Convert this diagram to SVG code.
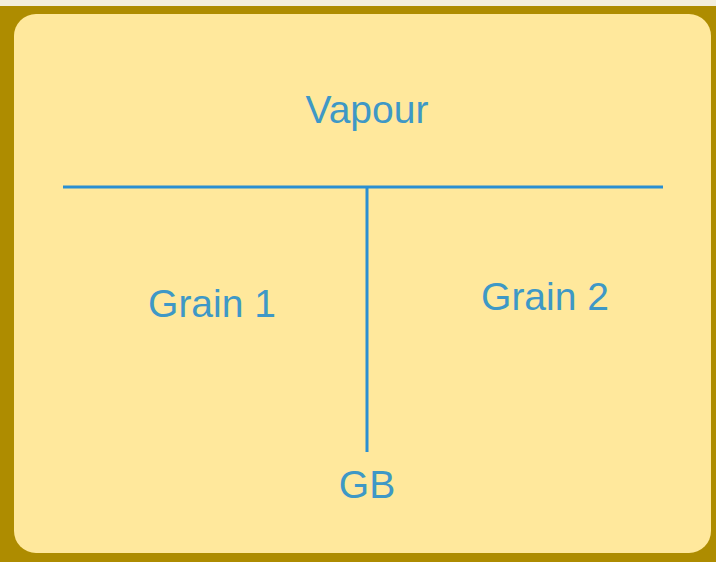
<svg xmlns="http://www.w3.org/2000/svg" width="716" height="562" viewBox="0 0 716 562">
<style>
.lbl{font-family:"Liberation Sans",Arial,sans-serif;font-size:39px;fill:#3E98C6;text-anchor:middle}
.ln{stroke:#2A8FD2;stroke-width:3;fill:none}
</style>
<rect x="0" y="0" width="716" height="562" fill="#F3EEDC"/>
<rect x="0" y="6" width="716" height="556" fill="#AE8C00"/>
<rect id="panel" x="14" y="14" width="697" height="539" rx="22" ry="22" fill="#FFE89C"/>
<g id="connectors">
<line class="ln" x1="63" y1="187" x2="663" y2="187"/>
<line class="ln" x1="367" y1="187" x2="367" y2="452"/>
</g>
<g id="vapour"><text class="lbl" x="367" y="123">Vapour</text></g>
<g id="grain1"><text class="lbl" x="212" y="317">Grain 1</text></g>
<g id="grain2"><text class="lbl" x="545" y="310">Grain 2</text></g>
<g id="gb"><text class="lbl" x="367" y="498">GB</text></g>
</svg>
